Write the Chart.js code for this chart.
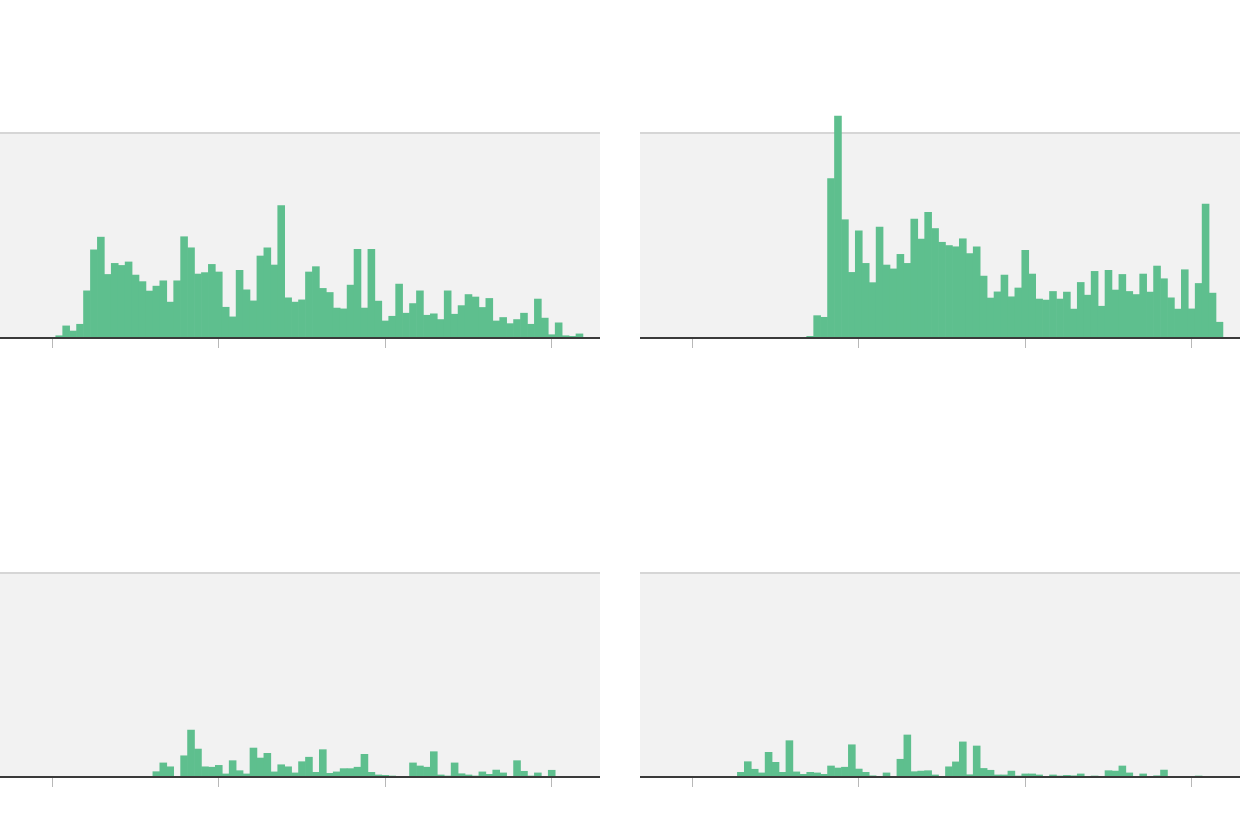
<!DOCTYPE html>
<html lang="en">
<head>
<meta charset="utf-8">
<title>Histograms</title>
<script src="https://cdn.jsdelivr.net/npm/chart.js@4.4.1/dist/chart.umd.min.js"></script>
<style>
    html, body { margin: 0; padding: 0; background: #ffffff; }
    body { width: 1240px; height: 832px; position: relative; overflow: hidden; }
    canvas { position: absolute; }
    #chart-tl { left: 0; top: 100px; }
    #chart-tr { left: 640px; top: 100px; }
    #chart-bl { left: 0; top: 540px; }
    #chart-br { left: 640px; top: 540px; }
</style>
</head>
<body>
<canvas id="chart-tl" width="600" height="260"></canvas>
<canvas id="chart-tr" width="600" height="260"></canvas>
<canvas id="chart-bl" width="600" height="260"></canvas>
<canvas id="chart-br" width="600" height="260"></canvas>

<script>
// Bin positions (one bar per bin), axis tick values and the visible range
const BINS = [1, 2, 3, 4, 5, 6, 7, 8, 9, 10, 11, 12, 13, 14, 15, 16, 17, 18, 19, 20,
    21, 22, 23, 24, 25, 26, 27, 28, 29, 30, 31, 32, 33, 34, 35, 36, 37, 38, 39, 40,
    41, 42, 43, 44, 45, 46, 47, 48, 49, 50, 51, 52, 53, 54, 55, 56, 57, 58, 59, 60,
    61, 62, 63, 64, 65, 66, 67, 68, 69, 70, 71, 72, 73, 74, 75, 76];
const X_TICKS = [0, 24, 48, 72];
const X_MIN = -7.54;
const X_MAX = 78.96;
const Y_TICKS = [100];
const Y_MAX = 100;

// Bar heights per panel (the gridline is at 100)
const VALUES_TL = [1.1, 5.9, 3.4, 6.7, 23, 43, 49.2, 31, 36.4, 35.4,
    37.1, 30.7, 27.5, 22.9, 25.3, 27.9, 17.5, 27.9, 49.4, 44,
    31.2, 31.9, 35.9, 32.2, 15, 10.3, 33, 23.5, 18.1, 40,
    44, 35.6, 64.6, 19.6, 17.5, 18.6, 32.2, 34.8, 24.2, 22.2,
    14.6, 14.2, 25.8, 43.3, 14.6, 43.3, 18, 8.3, 10.6, 26.3,
    12.1, 16.8, 23, 11.1, 11.8, 9, 23, 11.6, 15.8, 21.2,
    20, 14.9, 19.3, 8.3, 10, 7, 9, 12.1, 6.7, 19,
    9.7, 1.6, 7.4, 1.1, 0.8, 2];

const VALUES_TR = [0, 0, 0, 0, 0, 0, 0, 0, 0, 0,
    0, 0, 0, 0, 0, 0, 0.8, 10.9, 10.1, 77.8,
    108.3, 57.7, 32, 52.3, 36.4, 27, 54.1, 35.6, 33.7, 40.8,
    36.4, 58, 48.2, 61.3, 53.4, 46.7, 45.1, 44.5, 48.4, 41.2,
    44.5, 30.2, 19.5, 22.5, 30.7, 20.1, 24.4, 42.8, 31.2, 19,
    18.5, 22.7, 19, 22.4, 14.1, 27.1, 20.9, 32.5, 15.5, 33,
    23.4, 31, 22.7, 21.2, 31.2, 22.4, 35.1, 28.9, 19.6, 14.1,
    33.3, 14.2, 26.6, 65.3, 21.9, 7.7];

const VALUES_BL = [0, 0, 0, 0, 0, 0, 0, 0, 0, 0,
    0, 0, 0, 0.3, 2.6, 6.9, 5, 0.3, 10.4, 23,
    13.7, 5, 4.8, 5.7, 1.5, 8, 3.1, 1.5, 14.2, 9.3,
    11.6, 2.5, 6, 5, 2, 7.5, 9.7, 2.3, 13.4, 1.8,
    2.5, 4.1, 4.1, 4.8, 11.1, 2.3, 1, 0.8, 0.5, 0,
    0, 6.9, 5.4, 4.8, 12.4, 1, 0.5, 6.9, 1.6, 1,
    0.5, 2.5, 1.3, 3.4, 2, 0, 8, 2.8, 0.5, 2,
    0, 3.3, 0, 0.2, 0, 0];

const VALUES_BR = [0, 0, 0, 0, 0, 0, 2.3, 7.5, 3.8, 2,
    12.1, 7.2, 2.3, 17.8, 2.5, 1.3, 2.3, 2, 1.3, 5.4,
    4.4, 4.8, 15.8, 3.9, 2.3, 0.6, 0, 2, 0, 8.7,
    20.6, 2.6, 2.9, 3.1, 1, 0, 5, 7.4, 17.2, 1.1,
    15.2, 4.2, 3.3, 1, 1, 2.9, 0.5, 1.5, 1.5, 1,
    0, 1, 0.5, 0.8, 0.6, 1.5, 0, 0.5, 0, 3.1,
    2.9, 5.4, 2, 0.3, 1.5, 0, 0.6, 3.4, 0.2, 0,
    0, 0, 0.5, 0.2, 0, 0];

const BAR_COLOR = '#5ebf8e';

// paints the light grey panel behind the bars
const panelBackground = {
    id: 'panelBackground',
    beforeDraw(chart) {
        const { ctx, chartArea } = chart;
        ctx.save();
        ctx.fillStyle = '#f2f2f2';
        ctx.fillRect(chartArea.left, chartArea.top, chartArea.right - chartArea.left, chartArea.bottom - chartArea.top);
        ctx.restore();
    }
};

function drawHistogram(canvasId, values, bottomPadding) {
    const ctx = document.getElementById(canvasId).getContext('2d');
    const points = BINS.map((bin, i) => ({ x: bin, y: values[i] }));

    new Chart(ctx, {
        type: 'bar',
        data: {
            datasets: [{
                data: points,
                backgroundColor: BAR_COLOR,
                borderWidth: 0,
                barPercentage: 1,
                categoryPercentage: 1,
                clip: false
            }]
        },
        options: {
            responsive: false,
            animation: false,
            devicePixelRatio: 1,
            layout: { padding: { top: 33, bottom: bottomPadding, left: 0, right: 0 } },
            plugins: {
                legend: { display: false },
                tooltip: { enabled: false }
            },
            scales: {
                x: {
                    type: 'linear',
                    min: X_MIN,
                    max: X_MAX,
                    offset: false,
                    afterBuildTicks: scale => { scale.ticks = X_TICKS.map(v => ({ value: v })); },
                    ticks: { display: false },
                    grid: {
                        offset: false,
                        drawOnChartArea: false,
                        drawTicks: true,
                        tickLength: 10,
                        tickWidth: 1,
                        tickColor: '#b8b8b8',
                        color: '#b8b8b8'
                    },
                    border: { display: true, color: '#3a3a3a', width: 2, z: 1 }
                },
                y: {
                    min: 0,
                    max: Y_MAX,
                    afterBuildTicks: scale => { scale.ticks = Y_TICKS.map(v => ({ value: v })); },
                    ticks: { display: false },
                    grid: { color: '#d6d6d6', lineWidth: 2, drawTicks: false },
                    border: { display: false }
                }
            }
        },
        plugins: [panelBackground]
    });
}

drawHistogram('chart-tl', VALUES_TL, 12);
drawHistogram('chart-tr', VALUES_TR, 12);
drawHistogram('chart-bl', VALUES_BL, 13);
drawHistogram('chart-br', VALUES_BR, 13);
</script>
</body>
</html>
